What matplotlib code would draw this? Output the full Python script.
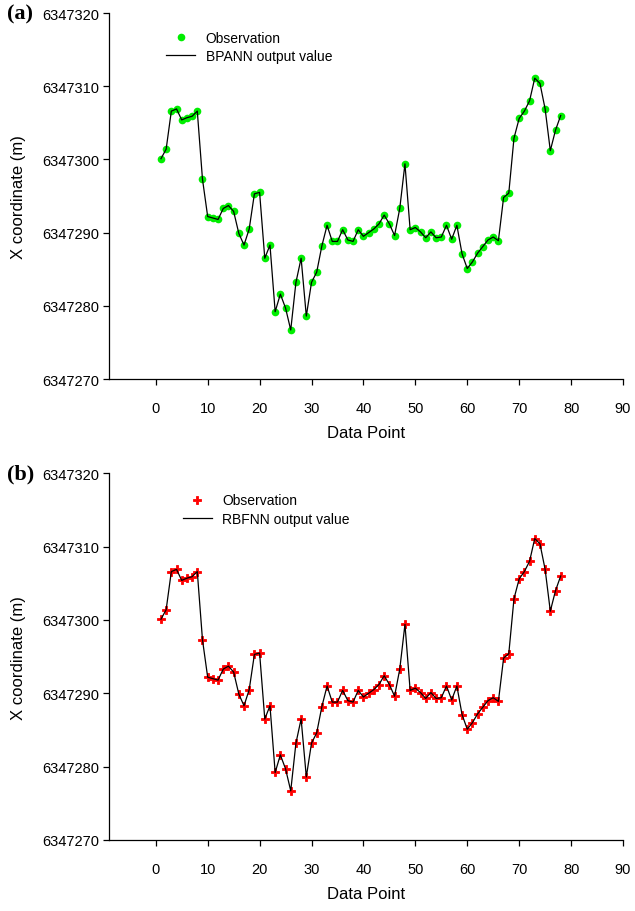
import matplotlib
matplotlib.use("Agg")
import matplotlib.pyplot as plt
from matplotlib.lines import Line2D

plt.rcParams["font.family"] = ["Liberation Sans", "DejaVu Sans"]

# data point index and observed X coordinate (offset from 6347000 m)
points = list(range(1, 79))
observed = [
    300.1, 301.4, 306.6, 306.9, 305.4, 305.7, 305.9, 306.6, 297.3, 292.2,
    292.0, 291.8, 293.3, 293.7, 292.9, 289.9, 288.3, 290.5, 295.3, 295.5,
    286.5, 288.3, 279.2, 281.6, 279.7, 276.7, 283.2, 286.5, 278.6, 283.2,
    284.6, 288.2, 291.0, 288.8, 288.8, 290.4, 289.0, 288.8, 290.4, 289.5,
    290.0, 290.5, 291.2, 292.4, 291.2, 289.6, 293.3, 299.4, 290.4, 290.7,
    290.1, 289.3, 290.1, 289.3, 289.4, 291.0, 289.1, 291.0, 287.1, 285.1,
    286.0, 287.2, 288.1, 289.0, 289.4, 288.9, 294.8, 295.4, 302.9, 305.6,
    306.6, 308.0, 311.1, 310.4, 306.9, 301.2, 304.0, 306.0,
]
# network outputs follow the observations almost exactly
bpann_out = list(observed)
rbfnn_out = list(observed)

base = 6347000
obs_abs = [base + v for v in observed]
bp_abs = [base + v for v in bpann_out]
rbf_abs = [base + v for v in rbfnn_out]

yticks = [6347270, 6347280, 6347290, 6347300, 6347310, 6347320]
xticks = [0, 10, 20, 30, 40, 50, 60, 70, 80, 90]

fig = plt.figure(figsize=(6.35, 9.12), dpi=100)
ax_a = fig.add_axes([0.1717, 0.5833, 0.8094, 0.4013])
ax_b = fig.add_axes([0.1717, 0.0779, 0.8094, 0.4020])

panels = [
    (ax_a, bp_abs, "#00ee00", "o", 5.5, 0, "BPANN output value", "(a)", (0.111, 0.952)),
    (ax_b, rbf_abs, "#ff0000", "P", 5.8, 0.6, "RBFNN output value", "(b)", (0.143, 0.945)),
]

for ax, model, mcolor, mk, ms, mew, model_label, tag, leg_pos in panels:
    ax.plot(points, obs_abs, linestyle="none", marker=mk, markersize=ms,
            color=mcolor, markeredgecolor=mcolor, markeredgewidth=mew, zorder=2)
    ax.plot(points, model, color="black", linewidth=0.9, zorder=3)

    ax.set_xlim(-9, 90)
    ax.set_ylim(6347270, 6347320)
    ax.set_xticks(xticks)
    ax.set_yticks(yticks)
    ax.ticklabel_format(axis="y", useOffset=False, style="plain")
    ax.spines["top"].set_visible(False)
    ax.spines["right"].set_visible(False)
    ax.spines["left"].set_linewidth(0.9)
    ax.spines["bottom"].set_linewidth(0.9)
    ax.tick_params(axis="y", direction="out", length=4, width=0.9, pad=3, labelsize=10.5)
    ax.tick_params(axis="x", direction="out", length=4, width=0.9, pad=12, labelsize=10.5)

    ax.set_xlabel("Data Point", fontsize=12)
    ax.xaxis.set_label_coords(0.5, -0.125)
    ax.set_ylabel("X coordinate (m)", fontsize=12)
    ax.yaxis.set_label_coords(-0.162, 0.5)

    handles = [
        Line2D([], [], linestyle="none", marker=mk, markersize=ms, color=mcolor,
               markeredgecolor=mcolor, markeredgewidth=mew),
        Line2D([], [], color="black", linewidth=0.9),
    ]
    ax.legend(handles, ["Observation", model_label], loc="upper left",
              bbox_to_anchor=leg_pos, frameon=False, fontsize=10,
              handlelength=2.1, handletextpad=0.75, labelspacing=0.3,
              borderpad=0, borderaxespad=0)

    pos = ax.get_position()
    fig.text(0.011, pos.y1, tag, fontsize=16, fontweight="bold",
             family=["Liberation Serif", "DejaVu Serif"], va="center", ha="left")

fig.savefig("out.png", dpi=100)
